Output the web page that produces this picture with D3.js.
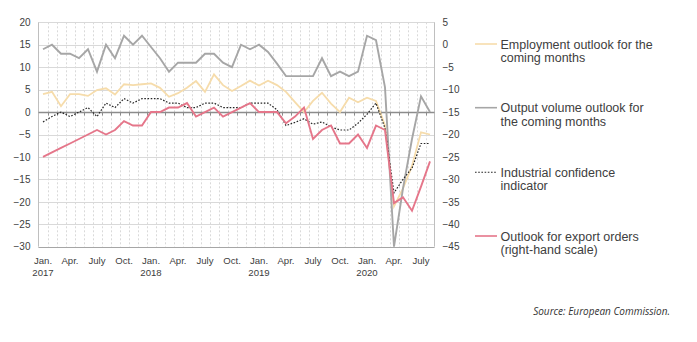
<!DOCTYPE html>
<html><head><meta charset="utf-8">
<script src="https://cdn.jsdelivr.net/npm/d3@7"></script>
<style>
html,body{margin:0;padding:0;background:#fff;}
svg{display:block;}
</style>
</head><body>
<svg id="chart" width="697" height="342"></svg>
<script>
// ---------- data ----------
const years = [2017, 2018, 2019, 2020];
const monthNames = ["Jan.","Feb.","Mar.","Apr.","May","June","July","Aug.","Sep.","Oct.","Nov.","Dec."];
const months = [];
years.forEach(y => monthNames.forEach((m, i) => { if (y < 2020 || i < 8) months.push(y + "-" + (i + 1)); }));
const xTickMonths = ["Jan.","Apr.","July","Oct."];

const leftTicks = [20,15,10,5,0,-5,-10,-15,-20,-25,-30];
const rightTicks = [5,0,-5,-10,-15,-20,-25,-30,-35,-40,-45];

// Employment outlook for the coming months (left scale)
const employment = [
  4, 4.5, 1.3, 4, 4, 3.6, 4.9, 5.3, 3.9, 6.2, 6, 6.2,
  6.4, 5.4, 3.4, 4.2, 5.4, 6.9, 4.5, 8.4, 6, 4.7, 5.8, 7,
  5.9, 7, 6, 4.5, 2.2, 0, 2.5, 4.3, 1.9, 0, 3.2, 2.2,
  3.2, 2.5, -3, -21, -17, -12, -4.5, -5
];
// Output volume outlook for the coming months (left scale)
const outputVolume = [
  14, 15, 13, 13, 12, 14, 9, 15, 12, 17, 15, 17,
  14.5, 12, 9, 11, 11, 11, 13, 13, 11, 10, 15, 14,
  15, 13.4, 10.8, 8, 8, 8, 8, 12, 8, 9, 8, 9,
  17, 16, 5.5, -30, -17, -6, 3.5, 0
];
// Industrial confidence indicator (left scale)
const industrial = [
  -2.2, -1, 0, -1, 0, 1, -1, 2, 1, 3, 2, 3,
  3, 3, 2, 2, 1, 1, 2, 2, 1, 1, 1, 2,
  2, 2, 0.5, -3, -2.3, -1.5, -2.7, -2.2, -3.3, -4, -4, -2.5,
  -0.5, 2, -3.6, -18, -15, -12.5, -7, -7
];
// Outlook for export orders (right-hand scale)
const exportOrders = [
  -25, -24, -23, -22, -21, -20, -19, -20, -19, -17, -18, -18,
  -15, -15, -14, -14, -13, -16, -15, -14, -16, -15, -14, -13,
  -15, -15, -15, -17.5, -16, -14, -21, -19, -18, -22, -22, -20,
  -23, -18, -19, -35.3, -34, -37, -31.6, -26
];

const legendLabels = [
  ["Employment outlook for the", "coming months"],
  ["Output volume outlook for", "the coming months"],
  ["Industrial confidence", "indicator"],
  ["Outlook for export orders", "(right-hand scale)"]
];
const sourceText = "Source: European Commission.";

// ---------- layout ----------
const svg = d3.select("#chart");
const L = 38.5, R = 434.5, T = 22.3, B = 246.7;
const x = d3.scaleBand().domain(months).range([L, R]).paddingInner(0).paddingOuter(0);
const cx = m => x(m) + x.bandwidth() / 2;
const yL = d3.scaleLinear().domain([-30, 20]).range([B, T]);
const yR = d3.scaleLinear().domain([-45, 5]).range([B, T]);

const axisColor = "#404040";
const fontAxis = "'Liberation Sans', Arial, sans-serif";

// horizontal gridlines
svg.append("g").selectAll("line").data(leftTicks).join("line")
  .attr("x1", L).attr("x2", R)
  .attr("y1", d => Math.round(yL(d)) + 0.5).attr("y2", d => Math.round(yL(d)) + 0.5)
  .attr("stroke", "#d9d9d9").attr("stroke-width", 1);

// vertical dashed gridlines at month boundaries
svg.append("g").selectAll("line").data(months.slice(1)).join("line")
  .attr("x1", d => Math.round(x(d)) + 0.5).attr("x2", d => Math.round(x(d)) + 0.5)
  .attr("y1", T).attr("y2", B)
  .attr("stroke", "#d9d9d9").attr("stroke-width", 1).attr("stroke-dasharray", "2,2");

// axis frame lines
const y0 = Math.round(yL(0)) + 0.5;
svg.append("line").attr("x1", L).attr("x2", L).attr("y1", T).attr("y2", B).attr("stroke", "#bfbfbf");
svg.append("line").attr("x1", R).attr("x2", R).attr("y1", T).attr("y2", B).attr("stroke", "#bfbfbf");
svg.append("line").attr("x1", L).attr("x2", R).attr("y1", Math.round(B)+0.5).attr("y2", Math.round(B)+0.5).attr("stroke", "#a6a6a6");
svg.append("line").attr("x1", L).attr("x2", R).attr("y1", y0).attr("y2", y0).attr("stroke", "#8c8c8c").attr("stroke-width", 1.3);
// tick marks on the zero line
svg.append("g").selectAll("line").data(months.slice(1)).join("line")
  .attr("x1", d => Math.round(x(d)) + 0.5).attr("x2", d => Math.round(x(d)) + 0.5)
  .attr("y1", y0).attr("y2", y0 + 3)
  .attr("stroke", "#8c8c8c").attr("stroke-width", 1);

// left axis labels
const gl = svg.append("g").attr("transform", `translate(${L - 8},0)`)
  .call(d3.axisLeft(yL).tickValues(leftTicks).tickSize(0).tickPadding(0));
gl.select(".domain").remove();
gl.selectAll("text").attr("font-family", fontAxis).attr("font-size", 10).attr("fill", axisColor);

// right axis labels
const gr = svg.append("g").attr("transform", `translate(${R + 8},0)`)
  .call(d3.axisRight(yR).tickValues(rightTicks).tickSize(0).tickPadding(0));
gr.select(".domain").remove();
gr.selectAll("text").attr("font-family", fontAxis).attr("font-size", 10).attr("fill", axisColor);

// x labels
const xTicks = months.filter(m => xTickMonths.includes(monthNames[+m.split("-")[1] - 1]));
const gx = svg.append("g").attr("transform", `translate(0,${B})`)
  .call(d3.axisBottom(x).tickValues(xTicks).tickSize(0).tickPadding(0).tickFormat(() => ""));
gx.select(".domain").remove();
gx.selectAll(".tick text").remove();
gx.selectAll(".tick").each(function(m) {
  const [yy, mm] = m.split("-").map(Number);
  const t = d3.select(this).append("text")
    .attr("font-family", fontAxis).attr("font-size", 9.6).attr("fill", axisColor)
    .attr("text-anchor", "middle");
  t.append("tspan").attr("x", 0).attr("y", 17).text(monthNames[mm - 1]);
  if (mm === 1) t.append("tspan").attr("x", 0).attr("y", 29.5).text(yy);
});

// ---------- series ----------
const series = [
  { name: "employment", values: employment, y: yL, color: "#f6dcab", width: 1.8, dash: null },
  { name: "output", values: outputVolume, y: yL, color: "#a6a6a6", width: 1.9, dash: null },
  { name: "industrial", values: industrial, y: yL, color: "#262626", width: 1.2, dash: "1.6,1.6" },
  { name: "export", values: exportOrders, y: yR, color: "#e5768a", width: 1.9, dash: null }
];
series.forEach(s => {
  const line = d3.line().x((d, i) => cx(months[i])).y(d => s.y(d));
  svg.append("path").datum(s.values)
    .attr("d", line).attr("fill", "none")
    .attr("stroke", s.color).attr("stroke-width", s.width)
    .attr("stroke-linejoin", "miter")
    .attr("stroke-dasharray", s.dash);
});

// ---------- legend ----------
const legendY = [44, 107.7, 172.3, 236];
const lg = svg.append("g");
series.forEach((s, i) => {
  const g = lg.append("g").attr("transform", `translate(0,${legendY[i]})`);
  g.append("line").attr("x1", 475).attr("x2", 497).attr("y1", 0).attr("y2", 0)
    .attr("stroke", s.color).attr("stroke-width", s.name === "industrial" ? 1.1 : 1.6)
    .attr("stroke-dasharray", s.dash);
  const t = g.append("text").attr("font-family", fontAxis).attr("font-size", 12.5).attr("fill", "#404040");
  legendLabels[i].forEach((ln, j) => {
    t.append("tspan").attr("x", 500.5).attr("y", 4.5 + j * 13.6).text(ln);
  });
});

// source
svg.append("text").attr("x", 670).attr("y", 314.5).attr("text-anchor", "end")
  .attr("font-family", "'Open Sans', sans-serif").attr("font-style", "italic")
  .attr("font-size", 10).attr("fill", "#333").text(sourceText);
</script>
</body></html>
